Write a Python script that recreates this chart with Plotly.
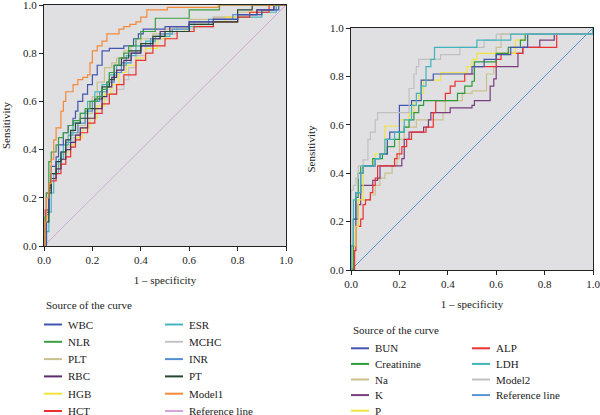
import plotly.graph_objects as go

# ---------------- data: left panel (1 - specificity, sensitivity) ----------------
WBC_x = [0, 0.01, 0.02, 0.03, 0.05, 0.06, 0.08, 0.10, 0.12, 0.13, 0.14, 0.16, 0.18, 0.20, 0.22, 0.24, 0.27, 0.33, 0.37, 0.39, 0.41, 0.50, 0.60, 0.70, 0.80, 0.90, 0.97, 1.0]
WBC_y = [0, 0.15, 0.26, 0.33, 0.37, 0.42, 0.47, 0.50, 0.53, 0.56, 0.60, 0.63, 0.67, 0.71, 0.75, 0.81, 0.82, 0.83, 0.86, 0.88, 0.90, 0.91, 0.93, 0.94, 0.96, 0.98, 1.0, 1.0]
NLR_x = [0, 0.005, 0.01, 0.02, 0.03, 0.05, 0.06, 0.08, 0.10, 0.12, 0.15, 0.17, 0.19, 0.22, 0.24, 0.26, 0.27, 0.29, 0.31, 0.33, 0.35, 0.38, 0.40, 0.46, 0.60, 0.725, 1.0]
NLR_y = [0, 0.12, 0.22, 0.35, 0.39, 0.42, 0.45, 0.47, 0.50, 0.52, 0.55, 0.57, 0.60, 0.62, 0.65, 0.68, 0.72, 0.75, 0.78, 0.80, 0.83, 0.86, 0.89, 0.945, 0.98, 1.0, 1.0]
PLT_x = [0, 0.01, 0.02, 0.03, 0.05, 0.07, 0.09, 0.11, 0.14, 0.17, 0.20, 0.22, 0.25, 0.28, 0.30, 0.33, 0.36, 0.40, 0.45, 0.50, 0.55, 0.60, 0.70, 0.80, 0.90, 0.96, 1.0]
PLT_y = [0, 0.15, 0.25, 0.30, 0.34, 0.38, 0.42, 0.46, 0.50, 0.55, 0.62, 0.68, 0.74, 0.76, 0.78, 0.81, 0.83, 0.86, 0.88, 0.90, 0.91, 0.94, 0.95, 0.97, 0.98, 1.0, 1.0]
RBC_x = [0, 0.01, 0.02, 0.03, 0.05, 0.07, 0.09, 0.11, 0.13, 0.15, 0.18, 0.21, 0.24, 0.26, 0.28, 0.30, 0.33, 0.36, 0.40, 0.45, 0.48, 0.52, 0.60, 0.70, 0.80, 0.88, 0.95, 1.0]
RBC_y = [0, 0.14, 0.24, 0.28, 0.32, 0.36, 0.40, 0.43, 0.46, 0.49, 0.53, 0.57, 0.62, 0.66, 0.70, 0.73, 0.77, 0.80, 0.83, 0.86, 0.89, 0.91, 0.93, 0.94, 0.96, 0.98, 1.0, 1.0]
HGB_x = [0, 0.01, 0.02, 0.03, 0.05, 0.07, 0.09, 0.11, 0.13, 0.16, 0.19, 0.22, 0.25, 0.28, 0.31, 0.34, 0.38, 0.42, 0.47, 0.52, 0.58, 0.65, 0.75, 0.85, 0.93, 1.0]
HGB_y = [0, 0.12, 0.25, 0.30, 0.33, 0.36, 0.39, 0.42, 0.45, 0.49, 0.53, 0.58, 0.63, 0.67, 0.72, 0.75, 0.78, 0.82, 0.86, 0.89, 0.91, 0.93, 0.95, 0.97, 1.0, 1.0]
HCT_x = [0, 0.005, 0.01, 0.02, 0.03, 0.05, 0.07, 0.09, 0.11, 0.13, 0.15, 0.18, 0.21, 0.24, 0.27, 0.30, 0.33, 0.38, 0.42, 0.45, 0.50, 0.55, 0.62, 0.70, 0.80, 0.85, 0.93, 1.0]
HCT_y = [0, 0.15, 0.22, 0.25, 0.27, 0.30, 0.34, 0.37, 0.41, 0.44, 0.47, 0.51, 0.55, 0.59, 0.63, 0.67, 0.71, 0.77, 0.80, 0.83, 0.86, 0.89, 0.91, 0.93, 0.95, 0.97, 1.0, 1.0]
ESR_x = [0, 0.01, 0.02, 0.03, 0.04, 0.06, 0.08, 0.10, 0.12, 0.15, 0.18, 0.21, 0.24, 0.27, 0.30, 0.34, 0.38, 0.42, 0.46, 0.52, 0.60, 0.70, 0.80, 0.90, 0.96, 1.0]
ESR_y = [0, 0.06, 0.14, 0.22, 0.30, 0.36, 0.42, 0.46, 0.51, 0.55, 0.60, 0.64, 0.67, 0.71, 0.75, 0.79, 0.83, 0.85, 0.87, 0.89, 0.91, 0.93, 0.95, 0.97, 1.0, 1.0]
MCHC_x = [0, 0.01, 0.02, 0.03, 0.05, 0.07, 0.09, 0.12, 0.15, 0.18, 0.21, 0.24, 0.27, 0.30, 0.33, 0.35, 0.38, 0.42, 0.46, 0.50, 0.55, 0.62, 0.70, 0.80, 0.90, 0.96, 1.0]
MCHC_y = [0, 0.12, 0.22, 0.28, 0.33, 0.37, 0.41, 0.45, 0.49, 0.53, 0.57, 0.61, 0.63, 0.65, 0.69, 0.74, 0.79, 0.83, 0.86, 0.88, 0.90, 0.93, 0.95, 0.96, 0.98, 1.0, 1.0]
INR_x = [0, 0.01, 0.02, 0.03, 0.05, 0.07, 0.09, 0.11, 0.14, 0.17, 0.20, 0.23, 0.26, 0.29, 0.32, 0.36, 0.40, 0.44, 0.48, 0.53, 0.60, 0.68, 0.78, 0.88, 0.95, 1.0]
INR_y = [0, 0.13, 0.23, 0.30, 0.35, 0.39, 0.43, 0.47, 0.51, 0.56, 0.60, 0.64, 0.68, 0.72, 0.76, 0.80, 0.83, 0.86, 0.88, 0.90, 0.92, 0.94, 0.96, 0.98, 1.0, 1.0]
PT_x = [0, 0.01, 0.02, 0.03, 0.05, 0.07, 0.09, 0.11, 0.13, 0.15, 0.18, 0.21, 0.24, 0.27, 0.29, 0.32, 0.35, 0.40, 0.45, 0.50, 0.60, 0.70, 0.80, 0.86, 1.0]
PT_y = [0, 0.10, 0.22, 0.30, 0.35, 0.39, 0.44, 0.48, 0.51, 0.53, 0.57, 0.61, 0.66, 0.69, 0.75, 0.78, 0.81, 0.84, 0.87, 0.89, 0.92, 0.93, 0.98, 1.0, 1.0]
Model1_x = [0, 0.005, 0.01, 0.02, 0.03, 0.04, 0.05, 0.07, 0.08, 0.09, 0.12, 0.14, 0.16, 0.18, 0.19, 0.20, 0.22, 0.24, 0.26, 0.31, 0.33, 0.355, 0.38, 0.40, 0.425, 0.51, 0.72, 1.0]
Model1_y = [0, 0.10, 0.20, 0.26, 0.36, 0.44, 0.49, 0.56, 0.60, 0.64, 0.67, 0.69, 0.70, 0.71, 0.76, 0.81, 0.83, 0.85, 0.88, 0.90, 0.91, 0.92, 0.93, 0.95, 0.98, 0.99, 1.0, 1.0]
Ref_x = [0, 1]
Ref_y = [0, 1]

# ---------------- data: right panel ----------------
BUN_x = [0, 0, 0.01, 0.02, 0.04, 0.05, 0.10, 0.12, 0.15, 0.16, 0.20, 0.25, 0.29, 0.34, 0.50, 0.55, 0.60, 0.66, 0.73, 1.0, 1.0]
BUN_y = [0, 0.10, 0.21, 0.32, 0.40, 0.43, 0.46, 0.48, 0.54, 0.57, 0.68, 0.70, 0.785, 0.81, 0.84, 0.87, 0.89, 0.92, 0.975, 0.975, 1.0]
Creat_x = [0, 0.01, 0.02, 0.03, 0.04, 0.09, 0.13, 0.15, 0.18, 0.20, 0.22, 0.24, 0.26, 0.28, 0.30, 0.44, 0.47, 0.50, 0.51, 0.60, 0.65, 0.70, 0.72, 1.0, 1.0]
Creat_y = [0, 0.21, 0.30, 0.40, 0.43, 0.46, 0.48, 0.51, 0.54, 0.57, 0.59, 0.62, 0.65, 0.68, 0.70, 0.73, 0.76, 0.78, 0.86, 0.895, 0.92, 0.95, 0.975, 0.975, 1.0]
Na_x = [0, 0.01, 0.02, 0.03, 0.08, 0.10, 0.12, 0.14, 0.17, 0.19, 0.20, 0.22, 0.27, 0.38, 0.39, 0.46, 0.50, 0.56, 0.59, 0.60, 0.62, 1.0, 1.0]
Na_y = [0, 0.08, 0.18, 0.29, 0.31, 0.35, 0.38, 0.40, 0.43, 0.46, 0.54, 0.59, 0.62, 0.65, 0.70, 0.73, 0.74, 0.81, 0.84, 0.92, 0.975, 0.975, 1.0]
K_x = [0, 0.01, 0.02, 0.03, 0.04, 0.09, 0.11, 0.12, 0.21, 0.22, 0.24, 0.30, 0.32, 0.33, 0.41, 0.50, 0.51, 0.575, 0.59, 0.60, 0.69, 0.71, 0.78, 0.84, 1.0, 1.0]
K_y = [0, 0.10, 0.21, 0.27, 0.35, 0.37, 0.38, 0.43, 0.46, 0.54, 0.57, 0.59, 0.62, 0.65, 0.67, 0.68, 0.70, 0.76, 0.79, 0.84, 0.895, 0.92, 0.95, 0.975, 0.975, 1.0]
P_x = [0, 0.01, 0.02, 0.03, 0.05, 0.09, 0.10, 0.14, 0.20, 0.24, 0.26, 0.28, 0.30, 0.37, 0.48, 0.50, 0.52, 0.68, 0.73, 1.0, 1.0]
P_y = [0, 0.10, 0.18, 0.29, 0.43, 0.46, 0.48, 0.595, 0.62, 0.65, 0.70, 0.73, 0.785, 0.815, 0.84, 0.87, 0.895, 0.95, 0.975, 0.975, 1.0]
ALP_x = [0, 0.01, 0.015, 0.02, 0.04, 0.05, 0.06, 0.08, 0.09, 0.10, 0.11, 0.18, 0.19, 0.21, 0.23, 0.25, 0.31, 0.34, 0.35, 0.39, 0.41, 0.43, 0.47, 0.51, 0.60, 0.62, 0.71, 0.85, 1.0, 1.0]
ALP_y = [0, 0.0, 0.08, 0.18, 0.21, 0.27, 0.29, 0.32, 0.35, 0.38, 0.43, 0.46, 0.48, 0.51, 0.54, 0.57, 0.59, 0.65, 0.70, 0.73, 0.76, 0.78, 0.81, 0.84, 0.87, 0.895, 0.92, 0.975, 0.975, 1.0]
LDH_x = [0, 0, 0.01, 0.02, 0.04, 0.05, 0.10, 0.12, 0.14, 0.18, 0.22, 0.25, 0.27, 0.29, 0.31, 0.33, 0.345, 0.52, 0.66, 1.0, 1.0]
LDH_y = [0, 0.10, 0.29, 0.32, 0.40, 0.43, 0.46, 0.48, 0.54, 0.57, 0.62, 0.68, 0.73, 0.76, 0.84, 0.87, 0.92, 0.95, 0.975, 0.975, 1.0]
Model2_x = [0, 0, 0.01, 0.02, 0.03, 0.05, 0.07, 0.08, 0.10, 0.11, 0.24, 0.26, 0.27, 0.28, 0.37, 0.45, 0.55, 0.60, 1.0, 1.0]
Model2_y = [0, 0.33, 0.35, 0.38, 0.43, 0.455, 0.54, 0.57, 0.62, 0.65, 0.75, 0.81, 0.84, 0.87, 0.89, 0.92, 0.95, 0.975, 0.975, 1.0]

tick_vals = [0.0, 0.2, 0.4, 0.6, 0.8, 1.0]
tick_text = ["0.0", "0.2", "0.4", "0.6", "0.8", "1.0"]

# (name, x, y, colour) – drawing order
left_series = [
    ("Reference line", Ref_x, Ref_y, "#d4a6d8"),
    ("MCHC", MCHC_x, MCHC_y, "#c4c4c4"),
    ("PLT", PLT_x, PLT_y, "#c9c08c"),
    ("HGB", HGB_x, HGB_y, "#f2e23c"),
    ("INR", INR_x, INR_y, "#5290d2"),
    ("ESR", ESR_x, ESR_y, "#45b6c0"),
    ("HCT", HCT_x, HCT_y, "#ec2f2f"),
    ("RBC", RBC_x, RBC_y, "#5c2c6c"),
    ("PT", PT_x, PT_y, "#24472f"),
    ("WBC", WBC_x, WBC_y, "#4254b0"),
    ("NLR", NLR_x, NLR_y, "#3a9e42"),
    ("Model1", Model1_x, Model1_y, "#f28a3a"),
]
right_series = [
    ("Reference line", Ref_x, Ref_y, "#5a93d4"),
    ("Na", Na_x, Na_y, "#c9c08c"),
    ("K", K_x, K_y, "#7a3c7e"),
    ("ALP", ALP_x, ALP_y, "#ec2f2f"),
    ("P", P_x, P_y, "#f2e23c"),
    ("Creatinine", Creat_x, Creat_y, "#2f9a3a"),
    ("BUN", BUN_x, BUN_y, "#4254b0"),
    ("Model2", Model2_x, Model2_y, "#c0c0c0"),
    ("LDH", LDH_x, LDH_y, "#3fb4bd"),
]
left_legend_cols = [["WBC", "NLR", "PLT", "RBC", "HGB", "HCT"],
                    ["ESR", "MCHC", "INR", "PT", "Model1", "Reference line"]]
right_legend_cols = [["BUN", "Creatinine", "Na", "K", "P"],
                     ["ALP", "LDH", "Model2", "Reference line"]]

FONT = "Liberation Serif"
W, H = 600, 415
fig = go.Figure()

for name, xs, ys, col in left_series:
    fig.add_trace(go.Scatter(x=xs, y=ys, mode="lines", name=name, xaxis="x", yaxis="y",
                             line=dict(color=col, width=1.2 if name != "Reference line" else 1.0,
                                       shape="linear" if name == "Reference line" else "hv"),
                             showlegend=False))
for name, xs, ys, col in right_series:
    fig.add_trace(go.Scatter(x=xs, y=ys, mode="lines", name=name, xaxis="x2", yaxis="y2",
                             line=dict(color=col, width=1.2 if name != "Reference line" else 1.0,
                                       shape="linear" if name == "Reference line" else "hv"),
                             showlegend=False))

def px_x(p):
    return p / W

def px_y(p):
    return 1 - p / H

axis_common = dict(range=[0, 1], tickvals=tick_vals, ticktext=tick_text, showgrid=False,
                   zeroline=False, showline=True, linecolor="#222222", linewidth=1, mirror=True,
                   ticks="outside", ticklen=4, tickcolor="#222222",
                   tickfont=dict(family=FONT, size=11, color="#222222"), automargin=False,
                   ticklabeloverflow="allow", fixedrange=True)

fig.update_layout(
    width=W, height=H, margin=dict(l=0, r=0, t=0, b=0),
    paper_bgcolor="white", plot_bgcolor="#e0e0e2",
    font=dict(family=FONT, size=11, color="#222222"),
    xaxis=dict(domain=[px_x(44), px_x(286)], anchor="y",
               title=dict(text="1 – specificity", standoff=11, font=dict(family=FONT, size=11)),
               **axis_common),
    yaxis=dict(domain=[px_y(246), px_y(5)], anchor="x",
               title=dict(text="Sensitivity", standoff=12, font=dict(family=FONT, size=11)),
               **axis_common),
    xaxis2=dict(domain=[px_x(351), px_x(593)], anchor="y2",
                title=dict(text="1 – specificity", standoff=11, font=dict(family=FONT, size=11)),
                **axis_common),
    yaxis2=dict(domain=[px_y(270), px_y(28)], anchor="x2",
                title=dict(text="Sensitivity", standoff=12, font=dict(family=FONT, size=11)),
                **axis_common),
    showlegend=False,
)

# ---- legends drawn as key swatches + labels ----
def draw_legend(series, cols, title_xy, col_x, row_y0, row_step):
    colours = {n: c for n, _, _, c in series}
    fig.add_annotation(text="Source of the curve", xref="paper", yref="paper",
                       x=px_x(title_xy[0]), y=px_y(title_xy[1]), xanchor="left", yanchor="middle",
                       showarrow=False, font=dict(family=FONT, size=11, color="#222222"))
    for ci, names in enumerate(cols):
        x0 = col_x[ci]
        for ri, n in enumerate(names):
            yy = row_y0 + ri * row_step
            fig.add_shape(type="line", xref="paper", yref="paper",
                          x0=px_x(x0), x1=px_x(x0 + 18), y0=px_y(yy), y1=px_y(yy),
                          line=dict(color=colours[n], width=2))
            fig.add_annotation(text=n, xref="paper", yref="paper", x=px_x(x0 + 22), y=px_y(yy),
                               xanchor="left", yanchor="middle", showarrow=False,
                               font=dict(family=FONT, size=11, color="#222222"))

draw_legend(left_series, left_legend_cols, (44, 305), [44, 165], 324.5, 17.3)
draw_legend(right_series, right_legend_cols, (351, 330), [351, 472], 348.3, 15.6)

fig.write_html("out.html", config={"displayModeBar": False},
               post_script="document.body.style.margin='0';document.body.style.overflow='hidden';")
